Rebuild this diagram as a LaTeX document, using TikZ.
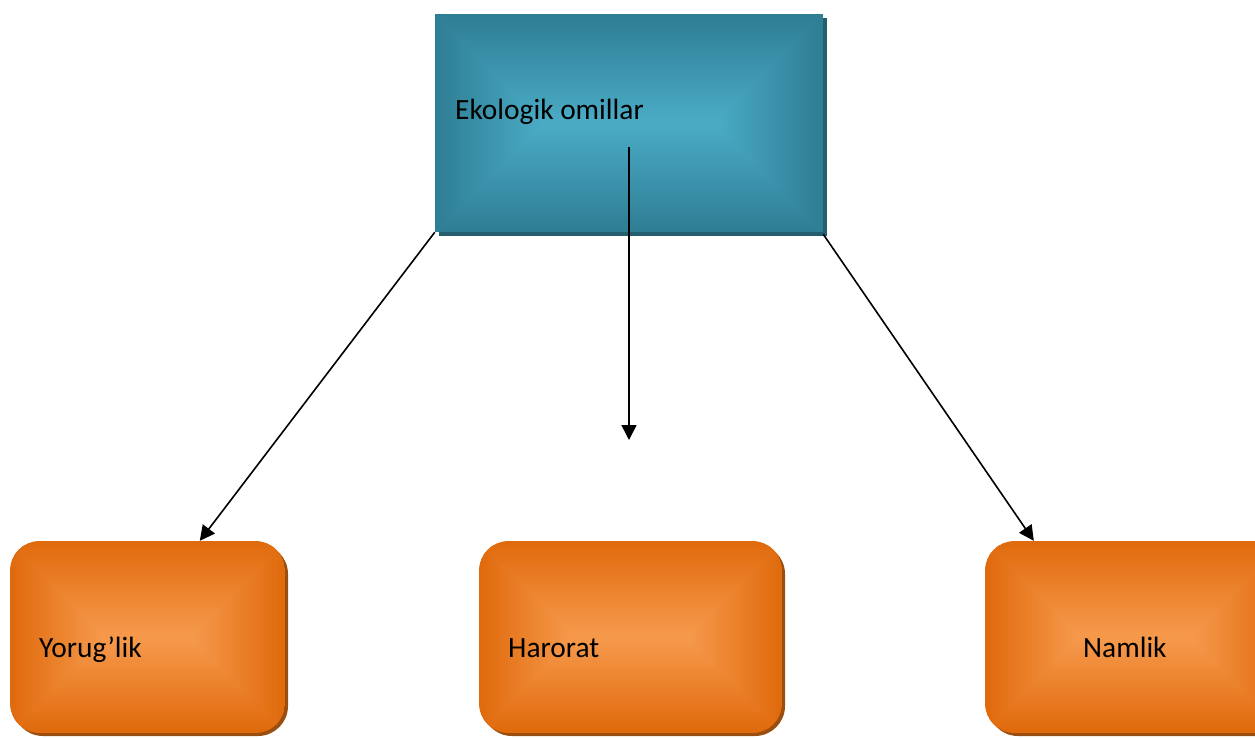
\documentclass[tikz,border=0pt]{standalone}
\usepackage{fontspec}
\setmainfont{Carlito}
\usetikzlibrary{arrows.meta,calc,shadows}

\definecolor{tealout}{HTML}{2E7E94}
\definecolor{tealin}{HTML}{4AAAC4}
\definecolor{tealshadow}{HTML}{245F70}
\definecolor{orgout}{HTML}{E06A0C}
\definecolor{orgin}{HTML}{F5984A}
\definecolor{orgshadow}{HTML}{9A4E10}

\tikzset{
  % rectangular gradient: nested insets from the outer colour to the inner one
  rectgrad/.style n args={3}{path picture={
      \path (path picture bounding box.south west) coordinate (pp-sw)
            (path picture bounding box.north east) coordinate (pp-ne);
      \foreach \i in {0,...,48}{
        \pgfmathsetmacro\dd{#3*\i/48}
        \pgfmathtruncatemacro\pp{100*\i/48}
        \fill[sharp corners, #1!\pp!#2] ($(pp-sw)+(\dd pt,\dd pt)$) rectangle ($(pp-ne)-(\dd pt,\dd pt)$);
      }
  }},
  headbox/.style={rectangle, draw=none, minimum width=388pt, minimum height=218pt,
    inner sep=0pt, general shadow={fill=tealshadow, shadow xshift=4pt, shadow yshift=-4pt},
    rectgrad={tealin}{tealout}{104}},
  factorbox/.style={rectangle, rounded corners=30pt, draw=none, minimum height=192pt,
    inner sep=0pt, general shadow={fill=orgshadow, shadow xshift=3pt, shadow yshift=-3pt},
    rectgrad={orgin}{orgout}{90}},
  lbl/.style={anchor=base west, inner sep=0pt, font=\fontsize{29.4}{35}\selectfont},
  link/.style={line width=1.6pt, -{Triangle[length=15pt,width=15pt]}}
}

\begin{document}
\begin{tikzpicture}[x=1pt,y=-1pt]
  \useasboundingbox (0,0) rectangle (1255,737);

  % main box
  \node[headbox] (top) at (629,123) {};
  \node[lbl] (toptext) at (455,119) {Ekologik omillar};

  % three factor boxes
  \node[factorbox, minimum width=275pt] (yor) at (147.5,637) {};
  \node[factorbox, minimum width=303pt] (har) at (630.5,637) {};
  \node[factorbox, minimum width=300pt] (nam) at (1135,637) {};

  \node[lbl] (yortext) at (39,657) {Yorug’lik};
  \node[lbl] (hartext) at (508,657) {Harorat};
  \node[lbl] (namtext) at (1083,657) {Namlik};

  % connectors
  \coordinate (hend) at (629,440);
  \draw[link] (top.south west) -- ([xshift=190pt]yor.north west);
  \draw[link] ([yshift=-24pt]top.center) -- (hend);
  \draw[link] ([yshift=-2pt]top.south east) -- ([xshift=49pt]nam.north west);
\end{tikzpicture}
\end{document}
